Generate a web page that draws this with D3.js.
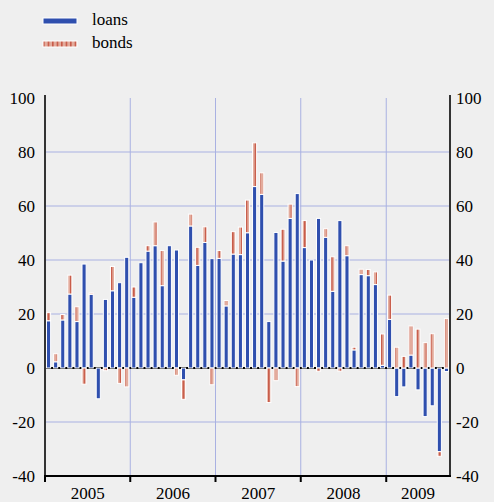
<!DOCTYPE html>
<html>
<head>
<meta charset="utf-8">
<script src="https://cdn.jsdelivr.net/npm/d3@7"></script>
<style>
  body { margin: 0; background: #efefef; }
  svg { display: block; }
</style>
</head>
<body>
<div id="chart"></div>
<script>
// monthly data, Jan 2005 - Sep 2009
const years = ["2005", "2006", "2007", "2008", "2009"];
const loans = [
  17.5, 2.3, 17.8, 27.4, 17.2, 38.5, 27.3, -11.4, 25.4, 28.6, 31.6, 41,
  26.2, 39, 43.3, 45.3, 30.5, 45.3, 43.7, -4.4, 52.6, 38, 46.5, 40.5,
  40.6, 23, 42.2, 42, 50.1, 67.2, 64.3, 17.2, 50.2, 39.6, 55.4, 64.6,
  44.6, 40, 55.4, 48.4, 28.4, 54.6, 41.6, 6.7, 34.6, 34.2, 30.9, 1,
  18, -10.6, -7, 4.8, -8.1, -18, -14, -31, -1.3
];
const bonds = [
  3, 3, 2, 7, 5.5, -6, 0.5, 0, -1, 9, -5.7, -7,
  3.8, 0, 2, 8.8, 13, 0, -2.7, -7.2, 4.4, 6.7, 5.8, -6.2,
  2.9, 2, 8.3, 10.2, 12.1, 16.2, 8, -12.8, -4.7, 11.8, 5.3, -6.9,
  10, 0, -1.2, 3.2, 12.8, -1.2, 3.7, 1, 2, 2.3, 4.7, 11.6,
  9, 7.7, 4.3, 10.8, 14.4, 9.4, 12.7, -1.7, 18.3
];
const yTicks = [-40, -20, 0, 20, 40, 60, 80, 100];

const months = d3.timeMonth.range(new Date(2005, 0, 1), new Date(2009, 9, 1));
const data = months.map((m, i) => ({ month: m, loans: loans[i], bonds: bonds[i] }));

const W = 494, H = 502;
const margin = { left: 45, right: 450, top: 98, bottom: 476 };
const serif = "Times New Roman, Times, Liberation Serif, DejaVu Serif, serif";

const svg = d3.select("#chart").append("svg")
  .attr("width", W)
  .attr("height", H)
  .style("font-family", serif);

svg.append("rect").attr("width", W).attr("height", H).attr("fill", "#efefef");

// stripe pattern for bonds
const pat = svg.append("defs").append("pattern")
  .attr("id", "stripes")
  .attr("patternUnits", "userSpaceOnUse")
  .attr("width", 4.5).attr("height", 4);
pat.append("rect").attr("width", 4.5).attr("height", 4).attr("fill", "#e3ab9c");
pat.append("rect").attr("x", 2.8).attr("width", 1.2).attr("height", 4).attr("fill", "#c0412e");

const x = d3.scaleBand()
  .domain(d3.range(data.length))
  .range([margin.left, margin.right])
  .paddingInner(0.42)
  .paddingOuter(0.21);

const xTime = d3.scaleTime()
  .domain([new Date(2005, 0, 1), new Date(2009, 9, 1)])
  .range([margin.left, margin.right]);

const y = d3.scaleLinear()
  .domain([-40, 100])
  .range([margin.bottom, margin.top]);

// grid
svg.append("g")
  .selectAll("line")
  .data(yTicks.filter(t => t !== 0 && t !== -40 && t !== 100))
  .join("line")
  .attr("x1", margin.left).attr("x2", margin.right)
  .attr("y1", d => y(d)).attr("y2", d => y(d))
  .attr("stroke", "#a9b1e2").attr("stroke-width", 1);

const yearStarts = years.map(yr => new Date(+yr, 0, 1));
svg.append("g")
  .selectAll("line")
  .data(yearStarts.slice(1))
  .join("line")
  .attr("x1", d => xTime(d)).attr("x2", d => xTime(d))
  .attr("y1", margin.top).attr("y2", margin.bottom)
  .attr("stroke", "#a9b1e2").attr("stroke-width", 1);

// zero line
svg.append("line")
  .attr("x1", margin.left).attr("x2", margin.right)
  .attr("y1", y(0)).attr("y2", y(0))
  .attr("stroke", "#000").attr("stroke-width", 2);

// stacked bars
const stack = d3.stack()
  .keys(["loans", "bonds"])
  .offset(d3.stackOffsetDiverging);
const series = stack(data);

svg.append("g")
  .selectAll("g")
  .data(series)
  .join("g")
  .attr("fill", d => d.key === "loans" ? "#2f4fae" : "url(#stripes)")
  .selectAll("rect")
  .data(d => d)
  .join("rect")
  .attr("x", (d, i) => x(i))
  .attr("width", x.bandwidth())
  .attr("y", d => y(Math.max(d[0], d[1])))
  .attr("height", d => Math.abs(y(d[0]) - y(d[1])))
  .attr("stroke", d => d[0] === d[1] ? "none" : "#fff")
  .attr("stroke-width", 1);

// axes frame
svg.append("line")
  .attr("x1", margin.left).attr("x2", margin.left).attr("y1", margin.top - 3).attr("y2", margin.bottom)
  .attr("stroke", "#333").attr("stroke-width", 2);
svg.append("line")
  .attr("x1", margin.right).attr("x2", margin.right).attr("y1", margin.top - 3).attr("y2", margin.bottom)
  .attr("stroke", "#333").attr("stroke-width", 2);
svg.append("line")
  .attr("x1", margin.left - 1).attr("x2", margin.right + 1).attr("y1", margin.bottom).attr("y2", margin.bottom)
  .attr("stroke", "#000").attr("stroke-width", 2);

// year ticks
svg.append("g")
  .selectAll("line")
  .data(yearStarts)
  .join("line")
  .attr("x1", d => xTime(d)).attr("x2", d => xTime(d))
  .attr("y1", margin.bottom).attr("y2", margin.bottom + 6)
  .attr("stroke", "#000").attr("stroke-width", 2);

// year labels, centred in each year's span
svg.append("g")
  .selectAll("text")
  .data(years)
  .join("text")
  .attr("x", (d, i) => {
    const a = xTime(yearStarts[i]);
    const b = i < years.length - 1 ? xTime(yearStarts[i + 1]) : margin.right;
    return (a + b) / 2;
  })
  .attr("y", 499)
  .attr("text-anchor", "middle")
  .attr("font-size", 17)
  .text(d => d);

// y labels both sides
svg.append("g")
  .selectAll("text")
  .data(yTicks)
  .join("text")
  .attr("x", 35)
  .attr("y", d => y(d) + 6)
  .attr("text-anchor", "end")
  .attr("font-size", 17)
  .text(d => d);

svg.append("g")
  .selectAll("text")
  .data(yTicks)
  .join("text")
  .attr("x", 456)
  .attr("y", d => y(d) + 6)
  .attr("text-anchor", "start")
  .attr("font-size", 17)
  .text(d => d);

// legend
const legend = svg.append("g");
legend.append("rect")
  .attr("x", 43).attr("y", 18).attr("width", 34).attr("height", 6)
  .attr("fill", "#2f4fae").attr("stroke", "#fff");
legend.append("text")
  .attr("x", 92).attr("y", 25).attr("font-size", 17).text("loans");
legend.append("rect")
  .attr("x", 43).attr("y", 41).attr("width", 34).attr("height", 6)
  .attr("fill", "url(#stripes)").attr("stroke", "#fff");
legend.append("text")
  .attr("x", 92).attr("y", 48).attr("font-size", 17).text("bonds");
</script>
</body>
</html>
